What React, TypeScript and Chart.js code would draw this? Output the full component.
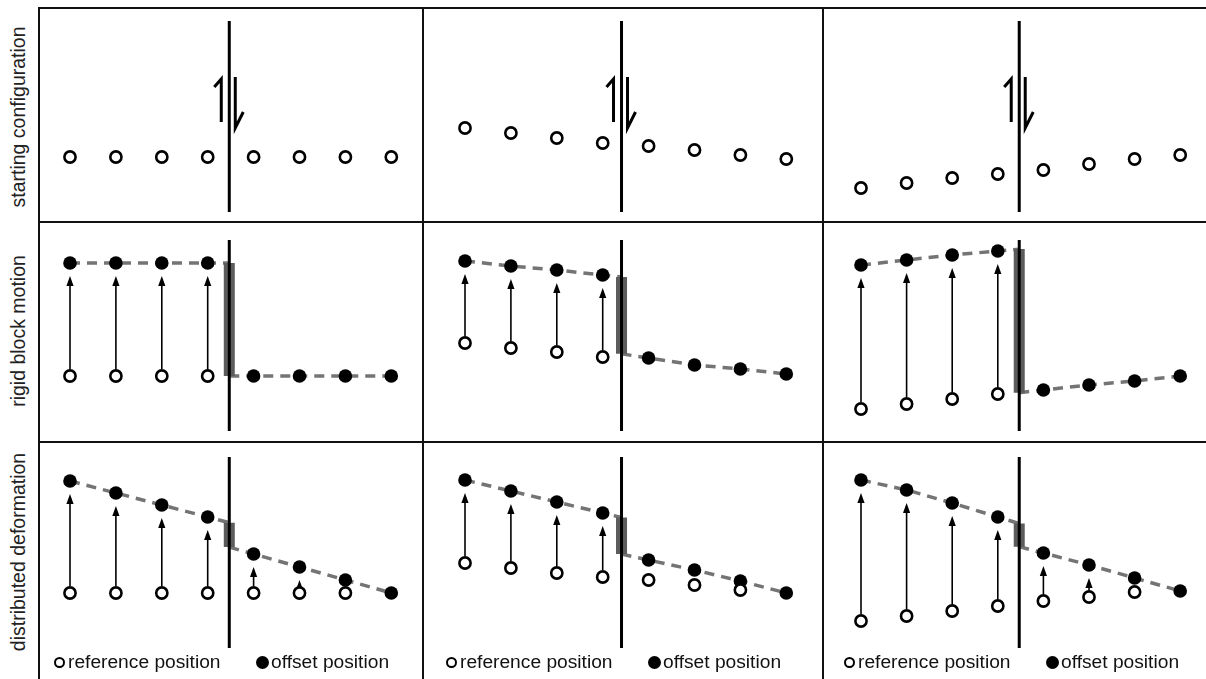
import React, { useEffect, useRef } from "react";
import { Chart, registerables } from "chart.js";

Chart.register(...registerables);

// Stations along each profile; the fault lies between stations 3 and 4.
const stations = [0, 1, 2, 3, 4, 5, 6, 7];
const faultStation = [3.47, 3.41, 3.47];

const rowTitles = ["starting configuration", "rigid block motion", "distributed deformation"];
const legendLabels = ["reference position", "offset position"];

// Station elevations (up positive) for each panel.
const startA = [0, 0, 0, 0, 0, 0, 0, 0];
const startB = [29, 24, 19, 14, 11, 7, 2, -2];
const startC = [-31, -26, -21, -17, -13, -7, -2, 2];

const rigidRefA = [0, 0, 0, 0, 0, 0, 0, 0];
const rigidOffA = [113, 113, 113, 113, 0, 0, 0, 0];
const rigidRefB = [33, 28, 24, 19, 18, 11, 7, 2];
const rigidOffB = [115, 110, 106, 101, 18, 11, 7, 2];
const rigidRefC = [-33, -28, -23, -18, -14, -9, -5, 0];
const rigidOffC = [111, 116, 121, 125, -14, -9, -5, 0];

const distRefA = [0, 0, 0, 0, 0, 0, 0, 0];
const distOffA = [112, 100, 88, 76, 39, 26, 13, 0];
const distRefB = [30, 25, 20, 16, 13, 8, 3, 0];
const distOffB = [113, 102, 91, 80, 33, 23, 12, 0];
const distRefC = [-28, -23, -18, -13, -8, -4, 1, 2];
const distOffC = [113, 103, 90, 76, 40, 28, 15, 2];

// Extent of the drawn fault trace and the level of the shear-sense glyph.
const faultTrace = [136, -55];
const senseLevel = 55;

const REFS = [
  [startA, startB, startC],
  [rigidRefA, rigidRefB, rigidRefC],
  [distRefA, distRefB, distRefC],
];
const OFFS = [
  [startA, startB, startC],
  [rigidOffA, rigidOffB, rigidOffC],
  [distOffA, distOffB, distOffC],
];

const FONT = '"Liberation Sans", Arial, Helvetica, sans-serif';

const COLS = [
  { left: 40, width: 382, firstPx: 70, step: 45.9, legendX: 59 },
  { left: 424, width: 398, firstPx: 465, step: 45.9, legendX: 451 },
  { left: 824, width: 382, firstPx: 861, step: 45.6, legendX: 849 },
];
const ROWS = [
  { top: 9, height: 212, baselinePx: 157, labelY: 117 },
  { top: 223, height: 218, baselinePx: 376, labelY: 331 },
  { top: 443, height: 236, baselinePx: 593, labelY: 552 },
];

const OPEN_R = 5.6;
const OPEN_BW = 2.6;

function buildDatasets(row: number, col: number) {
  const ref = REFS[row][col];
  const off = OFFS[row][col];
  const f = faultStation[col];
  const moved = (i: number) => off[i] !== ref[i];
  const sets: any[] = [];

  sets.push({
    type: "scatter",
    label: legendLabels[0],
    data: stations
      .map((s, i) => ({ x: s, y: ref[i] }))
      .filter((_, i) => row === 0 || moved(i)),
    pointRadius: OPEN_R,
    pointBorderWidth: OPEN_BW,
    pointBackgroundColor: "#ffffff",
    pointBorderColor: "#000000",
    order: 0,
  });

  sets.push({
    type: "line",
    data: [
      { x: f, y: faultTrace[0] },
      { x: f, y: faultTrace[1] },
    ],
    showLine: true,
    borderColor: "#000000",
    borderWidth: 3,
    pointRadius: 0,
    fill: false,
    order: 2,
  });

  if (row > 0) {
    const leftEnd = off[3] + (off[3] - off[2]) * (f - 3);
    const rightEnd = off[4] - (off[5] - off[4]) * (4 - f);

    sets.push({
      type: "scatter",
      label: legendLabels[1],
      data: stations.map((s, i) => ({ x: s, y: off[i] })),
      pointRadius: 6.8,
      pointBorderWidth: 0,
      pointBackgroundColor: "#000000",
      pointBorderColor: "#000000",
      order: 1,
    });

    // slip across the fault
    sets.push({
      type: "line",
      data: [
        { x: f, y: leftEnd },
        { x: f, y: rightEnd },
      ],
      showLine: true,
      borderColor: "#5c5c5c",
      borderWidth: 11,
      borderCapStyle: "butt",
      pointRadius: 0,
      fill: false,
      order: 3,
    });

    const dashed = {
      type: "line",
      showLine: true,
      borderColor: "#747474",
      borderWidth: 3.5,
      borderDash: [10, 7],
      borderCapStyle: "butt",
      pointRadius: 0,
      fill: false,
      tension: 0,
      order: 4,
    };
    sets.push({
      ...dashed,
      data: [...stations.slice(0, 4).map((s) => ({ x: s, y: off[s] })), { x: f, y: leftEnd }],
    });
    sets.push({
      ...dashed,
      data: [{ x: f, y: rightEnd }, ...stations.slice(4).map((s) => ({ x: s, y: off[s] }))],
    });
  }
  return sets;
}

function overlayPlugin(row: number, col: number) {
  return {
    id: "faultOverlay",
    beforeDatasetsDraw(chart: any) {
      const { ctx } = chart;
      const xs = chart.scales.x;
      const ys = chart.scales.y;
      const ref = REFS[row][col];
      const off = OFFS[row][col];
      ctx.save();
      ctx.strokeStyle = "#000";
      ctx.fillStyle = "#000";

      if (row === 0) {
        // shear-sense half arrows beside the fault
        const fx = xs.getPixelForValue(faultStation[col]);
        const cy = ys.getPixelForValue(senseLevel);
        ctx.lineWidth = 3;
        ctx.lineCap = "butt";
        ctx.lineJoin = "miter";
        ctx.beginPath();
        ctx.moveTo(fx - 8, cy + 20);
        ctx.lineTo(fx - 8, cy - 23);
        ctx.lineTo(fx - 15, cy - 15);
        ctx.stroke();
        ctx.beginPath();
        ctx.moveTo(fx + 6, cy - 25);
        ctx.lineTo(fx + 6, cy + 26);
        ctx.lineTo(fx + 14, cy + 10);
        ctx.stroke();
      } else {
        // displacement arrows from reference to offset position
        const headLen = 10;
        const headHalf = 3.6;
        stations.forEach((s, i) => {
          if (off[i] - ref[i] <= 0) return;
          const px = xs.getPixelForValue(s);
          const tail = ys.getPixelForValue(ref[i]) - (OPEN_R + OPEN_BW / 2);
          const tip = ys.getPixelForValue(off[i]) + 13;
          if (tail - tip < 3) return;
          if (tail > tip + headLen) {
            ctx.lineWidth = 1.6;
            ctx.beginPath();
            ctx.moveTo(px, tail);
            ctx.lineTo(px, tip + headLen - 1);
            ctx.stroke();
          }
          ctx.beginPath();
          ctx.moveTo(px, tip);
          ctx.lineTo(px - headHalf, tip + headLen);
          ctx.lineTo(px + headHalf, tip + headLen);
          ctx.closePath();
          ctx.fill();
        });
      }
      ctx.restore();
    },
  };
}

function Panel({ row, col }: { row: number; col: number }) {
  const canvasRef = useRef<HTMLCanvasElement | null>(null);
  const c = COLS[col];
  const r = ROWS[row];

  useEffect(() => {
    if (!canvasRef.current) return;
    const chart = new Chart(canvasRef.current, {
      type: "scatter",
      data: { datasets: buildDatasets(row, col) as any },
      options: {
        responsive: false,
        animation: false,
        events: [],
        layout: { padding: 0, autoPadding: false },
        scales: {
          x: {
            type: "linear",
            display: false,
            min: (c.left - c.firstPx) / c.step,
            max: (c.left + c.width - c.firstPx) / c.step,
          },
          y: {
            type: "linear",
            display: false,
            min: r.baselinePx - (r.top + r.height),
            max: r.baselinePx - r.top,
          },
        },
        plugins: {
          legend: { display: false },
          tooltip: { enabled: false },
        },
      },
      plugins: [overlayPlugin(row, col) as any],
    });
    return () => chart.destroy();
  }, [row, col]);

  return (
    <canvas
      ref={canvasRef}
      width={c.width}
      height={r.height}
      style={{ position: "absolute", left: c.left, top: r.top, width: c.width, height: r.height }}
    />
  );
}

function Legend({ col }: { col: number }) {
  const x = COLS[col].legendX;
  const cy = 662;
  const text: React.CSSProperties = {
    position: "absolute",
    top: cy - 12,
    height: 24,
    lineHeight: "24px",
    fontSize: 19.2,
    color: "#111",
    whiteSpace: "nowrap",
  };
  return (
    <>
      <div
        style={{
          position: "absolute",
          left: x - 5.5,
          top: cy - 5.5,
          width: 11,
          height: 11,
          boxSizing: "border-box",
          border: "2.5px solid #000",
          borderRadius: "50%",
          background: "#fff",
        }}
      />
      <div style={{ ...text, left: x + 9 }}>{legendLabels[0]}</div>
      <div
        style={{
          position: "absolute",
          left: x + 203 - 6.5,
          top: cy - 6.5,
          width: 13,
          height: 13,
          borderRadius: "50%",
          background: "#000",
        }}
      />
      <div style={{ ...text, left: x + 212 }}>{legendLabels[1]}</div>
    </>
  );
}

export default function App() {
  const rule = (left: number, top: number, width: number, height: number, key: string) => (
    <div key={key} style={{ position: "absolute", left, top, width, height, background: "#111" }} />
  );
  return (
    <div
      style={{
        position: "absolute",
        left: 0,
        top: 0,
        width: 1206,
        height: 679,
        overflow: "hidden",
        background: "#fff",
        fontFamily: FONT,
      }}
    >
      {rule(38, 7, 1168, 2, "t")}
      {rule(38, 221, 1168, 2, "h1")}
      {rule(38, 441, 1168, 2, "h2")}
      {rule(38, 7, 2, 672, "l")}
      {rule(422, 7, 2, 672, "v1")}
      {rule(822, 7, 2, 672, "v2")}

      {ROWS.map((r, i) => (
        <div
          key={"lbl" + i}
          style={{
            position: "absolute",
            left: 19,
            top: r.labelY,
            transform: "translate(-50%, -50%) rotate(-90deg)",
            whiteSpace: "nowrap",
            fontSize: 19.5,
            lineHeight: 1,
            color: "#222",
          }}
        >
          {rowTitles[i]}
        </div>
      ))}

      {ROWS.map((_, ri) => COLS.map((_, ci) => <Panel key={ri + "-" + ci} row={ri} col={ci} />))}

      {COLS.map((_, ci) => (
        <Legend key={"lg" + ci} col={ci} />
      ))}
    </div>
  );
}
